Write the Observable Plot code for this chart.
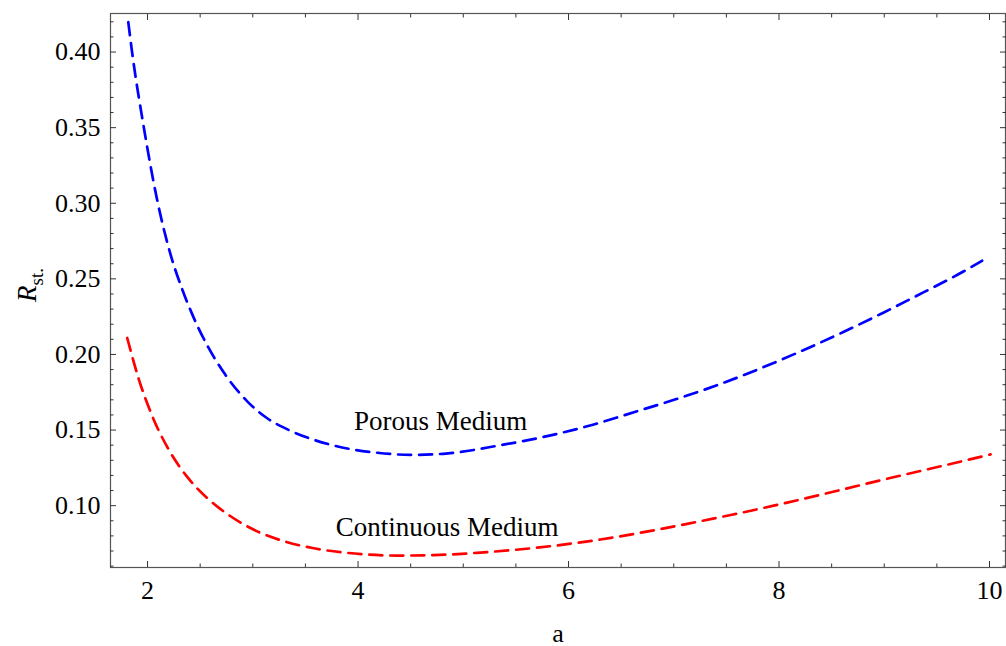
<!DOCTYPE html>
<html>
<head>
<meta charset="utf-8">
<script src="https://cdn.jsdelivr.net/npm/d3@7"></script>
<script src="https://cdn.jsdelivr.net/npm/@observablehq/plot@0.6"></script>
<style>
  html, body { margin: 0; padding: 0; background: #fff; }
  #chart { width: 1006px; height: 646px; }
  #chart svg text { font-family: 'Liberation Serif', 'Times New Roman', serif; }
</style>
</head>
<body>
<div id="chart"></div>
<script>
// ---- data ----
const aPorous = [1.817, 1.853, 1.965, 2.092, 2.219, 2.33, 2.425, 2.567, 2.725, 2.947, 3.137, 3.359, 3.549, 3.739, 3.96, 4.18, 4.5, 4.81, 5.354, 5.83, 6.24, 6.653, 7.048, 7.444, 7.824, 8.236, 8.616, 8.996, 9.376, 9.756, 9.93];
const rPorous = [0.4198, 0.400, 0.350, 0.302, 0.2660, 0.2430, 0.2265, 0.2060, 0.1880, 0.1690, 0.1578, 0.1495, 0.1443, 0.1403, 0.1370, 0.1350, 0.1336, 0.1343, 0.1400, 0.1465, 0.1537, 0.1625, 0.1710, 0.1805, 0.1908, 0.2030, 0.2150, 0.2278, 0.2412, 0.2550, 0.2620];

const aContinuous = [1.807, 1.918, 2.045, 2.20, 2.377, 2.567, 2.789, 3.042, 3.295, 3.58, 3.865, 4.372, 4.72, 5.13, 5.67, 6.304, 6.716, 7.128, 7.54, 7.95, 8.36, 8.77, 9.186, 9.6, 10.01];
const rContinuous = [0.2109, 0.1834, 0.1592, 0.1372, 0.1190, 0.1050, 0.0930, 0.0830, 0.0765, 0.0718, 0.0690, 0.0670, 0.0673, 0.0688, 0.0720, 0.0776, 0.0825, 0.0880, 0.0938, 0.1000, 0.1066, 0.1135, 0.1204, 0.1271, 0.1339];

const seriesNames = ["Porous Medium", "Continuous Medium"];
const seriesColors = ["#0000ff", "#ff0000"];
const labelA = [4.784, 4.846];
const labelR = [0.1557, 0.0858];

const xMajorTicks = [2, 4, 6, 8, 10];
const xMinorTicks = [2.5, 3, 3.5, 4.5, 5, 5.5, 6.5, 7, 7.5, 8.5, 9, 9.5];
const yMajorTicks = [0.10, 0.15, 0.20, 0.25, 0.30, 0.35, 0.40];
const yMinorTicks = [0.06, 0.07, 0.08, 0.09, 0.11, 0.12, 0.13, 0.14, 0.16, 0.17, 0.18, 0.19, 0.21, 0.22, 0.23, 0.24, 0.26, 0.27, 0.28, 0.29, 0.31, 0.32, 0.33, 0.34, 0.36, 0.37, 0.38, 0.39, 0.41, 0.42];
const xLabel = "a";
const yLabelMain = "R";
const yLabelSub = "st.";

// ---- build ----
const rows = [
  ...aPorous.map((a, i) => ({a, r: rPorous[i], s: seriesNames[0]})),
  ...aContinuous.map((a, i) => ({a, r: rContinuous[i], s: seriesNames[1]}))
];
const labels = seriesNames.map((s, i) => ({a: labelA[i], r: labelR[i], s}));

const FONT = "'Liberation Serif', 'Times New Roman', serif";
const tickStroke = "#333";

const axisTicks = (anchor, kind, ticks, size) => (kind === "x" ? Plot.axisX : Plot.axisY)({
  anchor, ticks, tickSize: -size, fill: "none", stroke: tickStroke, label: null, tickFormat: null
});

const svg = Plot.plot({
  width: 1006,
  height: 646,
  marginTop: 13,
  marginRight: 1,
  marginBottom: 79,
  marginLeft: 110,
  style: {fontFamily: FONT, fontSize: "26px", background: "#fff", color: "#000", overflow: "visible"},
  x: {domain: [1.648, 10.152]},
  y: {domain: [0.0591, 0.4255]},
  color: {domain: seriesNames, range: seriesColors},
  marks: [
    Plot.frame({stroke: "#555", strokeWidth: 1.2}),
    axisTicks("bottom", "x", xMajorTicks, 6),
    axisTicks("top", "x", xMajorTicks, 6),
    axisTicks("bottom", "x", xMinorTicks, 3.5),
    axisTicks("top", "x", xMinorTicks, 3.5),
    axisTicks("left", "y", yMajorTicks, 6),
    axisTicks("right", "y", yMajorTicks, 6),
    axisTicks("left", "y", yMinorTicks, 3.5),
    axisTicks("right", "y", yMinorTicks, 3.5),
    Plot.axisX({anchor: "bottom", ticks: xMajorTicks, tickSize: 0, tickPadding: 13, fontSize: 26, fontFamily: FONT, label: null, tickFormat: d3.format("d")}),
    Plot.axisY({anchor: "left", ticks: yMajorTicks, tickSize: 0, tickPadding: 10, fontSize: 26, fontFamily: FONT, label: null, tickFormat: d3.format(".2f")}),
    Plot.line(rows, {x: "a", y: "r", z: "s", stroke: "s", strokeWidth: 2.7, strokeDasharray: "13,8", curve: "monotone-x"}),
    Plot.text(labels, {x: "a", y: "r", text: "s", fontSize: 27, fontFamily: FONT, textAnchor: "middle", lineAnchor: "middle", fill: "#000"}),
    Plot.text([xLabel], {frameAnchor: "bottom", dy: 66, text: d => d, fontSize: 26, fontFamily: FONT, lineAnchor: "middle", fill: "#000"})
  ]
});

// y label with subscript
const yl = d3.select(svg).append("text")
  .attr("transform", "translate(36,285) rotate(-90)")
  .attr("text-anchor", "middle")
  .attr("fill", "#000")
  .style("font-family", FONT)
  .style("font-size", "27px");
yl.append("tspan").attr("font-style", "italic").text(yLabelMain);
yl.append("tspan").attr("font-size", "19px").attr("dy", "7").text(yLabelSub);

document.getElementById("chart").appendChild(svg);
</script>
</body>
</html>
